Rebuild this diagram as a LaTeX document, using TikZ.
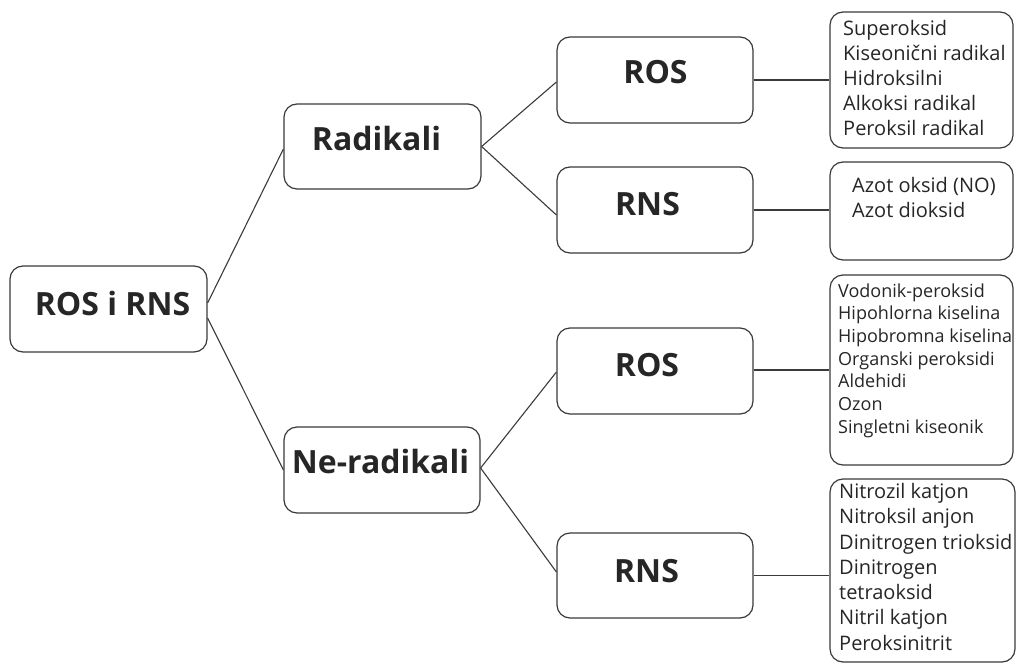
\documentclass[tikz,border=0pt]{standalone}
\usepackage{fontspec}
\setmainfont{Open Sans}
\begin{document}
\begin{tikzpicture}[x=1pt,y=-1pt,
  box/.style={draw=linec,line width=1.2pt,rounded corners=13pt,inner sep=0pt,fill=white},
  headtxt/.style={text=txtc,inner sep=0pt,font=\bfseries\fontsize{32}{38}\selectfont},
  listtxt/.style={text=txtc,inner sep=0pt,anchor=north west,align=left},
  conn/.style={draw=linec,line width=1.1pt}]
\definecolor{linec}{HTML}{3A3A3A}
\definecolor{txtc}{HTML}{262626}
\useasboundingbox (0,0) rectangle (1016,666);
% level boxes
\node[box,minimum width=197pt,minimum height=86pt] (root) at (108.5,309) {};
\node[box,minimum width=197pt,minimum height=85pt] (rad) at (382.5,146.5) {};
\node[box,minimum width=196pt,minimum height=86pt] (nrad) at (382,470) {};
\node[box,minimum width=196pt,minimum height=86pt] (ros1) at (655,80) {};
\node[box,minimum width=196pt,minimum height=86pt] (rns1) at (655,210) {};
\node[box,minimum width=196pt,minimum height=86pt] (ros2) at (655,371) {};
\node[box,minimum width=196pt,minimum height=85pt] (rns2) at (655,575.5) {};
% list boxes
\node[box,minimum width=183pt,minimum height=136pt] (l1) at (921.5,80) {};
\node[box,minimum width=183pt,minimum height=98pt] (l2) at (921.5,211) {};
\node[box,minimum width=183pt,minimum height=190pt] (l3) at (921.5,370) {};
\node[box,minimum width=185pt,minimum height=183pt] (l4) at (922.5,570.5) {};
% headings
\node[headtxt] (troot) at (112.5,303) {ROS i RNS};
\node[headtxt] (trad) at (376.5,138) {Radikali};
\node[headtxt] (tnrad) at (380.5,461) {Ne-radikali};
\node[headtxt] (tros1) at (655.5,72) {ROS};
\node[headtxt] (trns1) at (647.5,204.5) {RNS};
\node[headtxt] (tros2) at (647,365) {ROS};
\node[headtxt] (trns2) at (646.5,571.5) {RNS};
% lists
\node[listtxt,font=\fontsize{20}{25}\selectfont] (tl1) at (843,20) {Superoksid\\Kiseonični radikal\\Hidroksilni\\Alkoksi radikal\\Peroksil radikal};
\node[listtxt,font=\fontsize{20}{25}\selectfont] (tl2) at (852,177) {Azot oksid (NO)\\Azot dioksid};
\node[listtxt,font=\fontsize{18}{22.7}\selectfont] (tl3) at (838,283.3) {Vodonik-peroksid\\Hipohlorna kiselina\\Hipobromna kiselina\\Organski peroksidi\\Aldehidi\\Ozon\\Singletni kiseonik};
\node[listtxt,font=\fontsize{20}{25.3}\selectfont] (tl4) at (839,483) {Nitrozil katjon\\Nitroksil anjon\\Dinitrogen trioksid\\Dinitrogen\\tetraoksid\\Nitril katjon\\Peroksinitrit};
% connectors
\draw[conn] ([yshift=6pt]root.east) -- ([yshift=-2.5pt]rad.west);
\draw[conn] ([yshift=-9pt]root.east) -- (nrad.west);
\draw[conn] (rad.east) -- ([yshift=-2pt]ros1.west);
\draw[conn] (rad.east) -- ([yshift=-5pt]rns1.west);
\draw[conn] ([yshift=2pt]nrad.east) -- ([yshift=-1pt]ros2.west);
\draw[conn] ([yshift=2pt]nrad.east) -- ([yshift=3.5pt]rns2.west);
\draw[conn] (ros1.east) -- (ros1.east -| l1.west);
\draw[conn] (rns1.east) -- (rns1.east -| l2.west);
\draw[conn] ([yshift=1pt]ros2.east) -- ([yshift=1pt]ros2.east -| l3.west);
\draw[conn] (rns2.east) -- (rns2.east -| l4.west);
\end{tikzpicture}
\end{document}
